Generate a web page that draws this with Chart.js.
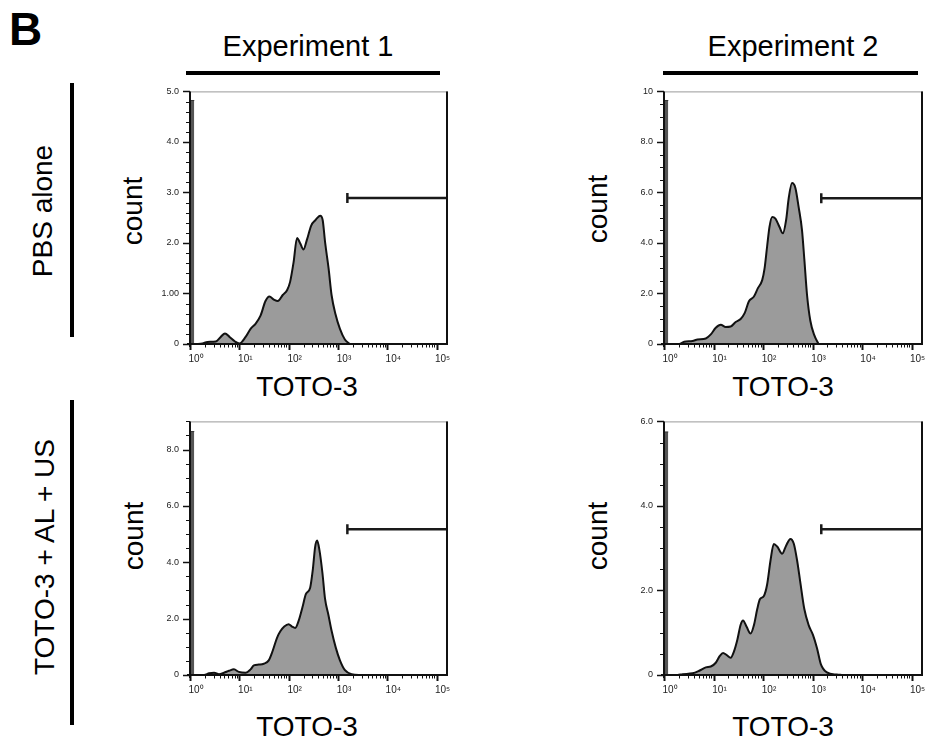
<!DOCTYPE html>
<html>
<head>
<meta charset="utf-8">
<script src="https://cdn.jsdelivr.net/npm/chart.js@4.4.1/dist/chart.umd.min.js"></script>
<style>
  body { margin: 0; width: 925px; height: 747px; overflow: hidden; background: #fff; position: relative;
         font-family: Arial, "Liberation Sans", sans-serif; color: #000; }
  canvas { position: absolute; }
  .t { position: absolute; white-space: nowrap; line-height: 1; }
  .c { transform: translateX(-50%); }
  .r { transform: translate(-50%, -50%) rotate(-90deg); }
  .bar { position: absolute; background: #000; }
</style>
</head>
<body>
<div class="t" style="left:9px; top:6px; font-size:46px; font-weight:bold;">B</div>
<div class="t c" style="left:308px; top:32px; font-size:29px;">Experiment 1</div>
<div class="t c" style="left:793px; top:32px; font-size:29px;">Experiment 2</div>
<div class="bar" style="left:186px; top:71px; width:254px; height:4px;"></div>
<div class="bar" style="left:663px; top:71px; width:255px; height:4px;"></div>
<div class="bar" style="left:70px; top:83px; width:4px; height:254px;"></div>
<div class="bar" style="left:70px; top:400px; width:4px; height:325px;"></div>
<div class="t r" style="left:43px; top:211px; font-size:28px;">PBS alone</div>
<div class="t r" style="left:45px; top:557px; font-size:28px;">TOTO-3 + AL + US</div>
<div class="t r" style="left:133px; top:211px; font-size:28px;">count</div>
<div class="t r" style="left:598px; top:209px; font-size:28px;">count</div>
<div class="t r" style="left:134px; top:536px; font-size:28px;">count</div>
<div class="t r" style="left:598px; top:536px; font-size:28px;">count</div>
<div class="t c" style="left:307px; top:373px; font-size:28px;">TOTO-3</div>
<div class="t c" style="left:783px; top:373px; font-size:28px;">TOTO-3</div>
<div class="t c" style="left:307px; top:713px; font-size:28px;">TOTO-3</div>
<div class="t c" style="left:783px; top:713px; font-size:28px;">TOTO-3</div>

<canvas id="c1" width="315" height="299" style="left:145px; top:75px;"></canvas>
<canvas id="c2" width="316" height="299" style="left:619px; top:75px;"></canvas>
<canvas id="c3" width="315" height="300" style="left:145px; top:405px;"></canvas>
<canvas id="c4" width="316" height="300" style="left:619px; top:405px;"></canvas>

<script>
// TOTO-3 fluorescence (x) and event count (y)
const x1 = [1.31,1.79,2.25,3.32,4.19,5.12,6.35,8.15,10.1,13.4,16.9,21.3,26.9,33.9,40.7,50.1,60.3,75.9,93.3,107,126,148,170,200,234,288,347,437,490,550,646,741,891,1096,1380,1738];
const y1 = [0,0.01,0.04,0.05,0.14,0.21,0.14,0.05,0.01,0.14,0.30,0.40,0.56,0.85,0.94,0.88,0.85,0.97,1.07,1.23,1.62,2.10,2.0,1.87,2.06,2.35,2.45,2.54,2.45,2.0,1.49,0.97,0.59,0.30,0.09,0];

const x2 = [1.19,2.03,2.56,3.77,4.75,6.98,8.81,11.1,14.0,17.6,22.2,28.0,35.3,42.5,51.9,65.5,78.7,96.2,107,121,135,153,178,214,251,292,331,385,450,525,612,682,773,902,1084,1318];
const y2 = [0,0,0.09,0.12,0.18,0.22,0.38,0.64,0.76,0.67,0.69,0.87,0.99,1.22,1.69,1.88,2.21,2.53,2.97,3.87,4.64,5.03,4.96,4.64,4.38,4.90,5.79,6.37,6.18,5.41,4.51,3.36,1.95,0.92,0.35,0];

const x3 = [1.42,1.93,2.44,3.08,3.87,4.89,6.17,7.78,9.79,13.4,16.9,19.7,24.8,31.3,39.5,47.5,58.1,67.8,81.5,100,117,136,158,191,223,273,309,344,378,421,484,547,640,746,899,1096,1384,1888,3006];
const y3 = [0,0,0.06,0.08,0.03,0.08,0.15,0.20,0.11,0.08,0.20,0.34,0.37,0.40,0.52,0.86,1.32,1.55,1.72,1.80,1.72,1.67,1.9,2.41,2.87,3.10,3.74,4.54,4.77,4.43,3.62,2.70,2.13,1.55,0.98,0.52,0.17,0.03,0];

const x4 = [1.38,1.88,2.37,3.77,5.13,6.98,8.81,11.1,13.4,15.6,18.5,22.2,25.9,30.2,35.3,39.4,46.6,56.1,65.5,76.4,86.3,104,121,142,165,193,243,292,357,417,486,568,682,834,1019,1227,1476,1950,3090,3890];
const y4 = [0,0,0.02,0.04,0.10,0.18,0.20,0.29,0.45,0.52,0.47,0.41,0.56,0.83,1.19,1.29,1.14,0.98,1.18,1.56,1.79,1.87,2.14,2.72,3.10,3.04,2.87,3.06,3.22,3.11,2.72,2.18,1.56,1.18,0.95,0.64,0.25,0.06,0.01,0];

// off-scale pile-up at the left edge, and the gate marker
const spikeH = [4.82, 9.64, 8.64, 5.75];
const spikeEnd = 1.22;
const gateX = [1550, 1500, 1550, 1500];
const gateY = [2.89, 5.77, 5.17, 3.45];

// axes
const xMin = 1, xMax = 170000;
const xMajor = [1, 10, 100, 1000, 10000, 100000];
const xMajorLabels = ['10\u2070', '10\u00B9', '10\u00B2', '10\u00B3', '10\u2074', '10\u2075'];
const yMax = [5, 10, 9, 6];
const yMinorStep = [0.2, 0.5, 0.5, 0.5];
const yMajor1 = [0, 1, 2, 3, 4, 5],      yLabels1 = ['0', '1.00', '2.0', '3.0', '4.0', '5.0'];
const yMajor2 = [0, 2, 4, 6, 8, 10],     yLabels2 = ['0', '2.0', '4.0', '6.0', '8.0', '10'];
const yMajor3 = [0, 2, 4, 6, 8],         yLabels3 = ['0', '2.0', '4.0', '6.0', '8.0'];
const yMajor4 = [0, 2, 4, 6],            yLabels4 = ['0', '2.0', '4.0', '6.0'];

const FONT = 'Arial, "Liberation Sans", sans-serif';

// frame + major/minor tick marks, drawn from the scales
const axisFrame = {
  id: 'axisFrame',
  afterDatasetsDraw(chart) {
    const { ctx, chartArea: a, scales } = chart;
    const seg = (x0, y0, x1, y1) => { ctx.beginPath(); ctx.moveTo(x0, y0); ctx.lineTo(x1, y1); ctx.stroke(); };
    ctx.save();
    ctx.strokeStyle = '#9a9a9a'; ctx.lineWidth = 1;
    seg(a.left, a.top + 0.5, a.right, a.top + 0.5);
    ctx.strokeStyle = '#111'; ctx.lineWidth = 2;
    seg(a.right - 1, a.top, a.right - 1, a.bottom);
    seg(a.left, a.top, a.left, a.bottom + 3);
    seg(a.left - 3, a.bottom, a.right, a.bottom);
    scales.x.ticks.forEach(t => {
      const px = Math.round(scales.x.getPixelForValue(t.value)) + 0.5;
      ctx.lineWidth = t.label ? 2 : 1;
      seg(px, a.bottom, px, a.bottom + (t.label ? 6 : 3.5));
    });
    scales.y.ticks.forEach(t => {
      const py = Math.round(scales.y.getPixelForValue(t.value)) + 0.5;
      ctx.lineWidth = t.label ? 1.5 : 1;
      seg(a.left, py, a.left - (t.label ? 7 : 4), py);
    });
    ctx.restore();
  }
};

function makePanel(id, xs, ys, idx, yMajor, yLabels) {
  const yTicks = [];
  for (let k = 0; k * yMinorStep[idx] <= yMax[idx] + 1e-9; k++) yTicks.push(+(k * yMinorStep[idx]).toFixed(3));
  const xTicks = [];
  xMajor.forEach(d => { for (let m = 1; m < 10; m++) if (d * m <= xMax) xTicks.push(d * m); });

  new Chart(document.getElementById(id), {
    type: 'line',
    data: {
      datasets: [
        { // gate
          data: [{ x: gateX[idx], y: gateY[idx] }, { x: xMax, y: gateY[idx] }],
          borderColor: '#1a1a1a', borderWidth: 2.5, fill: false, tension: 0,
          pointStyle: 'line', rotation: 90, pointRadius: [5, 0],
          pointBorderColor: '#1a1a1a', pointBorderWidth: 2.5
        },
        { // histogram
          data: xs.map((x, i) => ({ x: x, y: ys[i] })),
          borderColor: '#111', borderWidth: 2, backgroundColor: '#9b9b9b',
          fill: 'origin', cubicInterpolationMode: 'monotone', pointRadius: 0
        },
        { // spike at the lower limit
          data: [{ x: xMin, y: spikeH[idx] }, { x: spikeEnd, y: spikeH[idx] }],
          borderColor: '#333', borderWidth: 1, backgroundColor: '#555',
          fill: 'origin', tension: 0, pointRadius: 0
        }
      ]
    },
    options: {
      responsive: false,
      animation: false,
      layout: { padding: { top: 10, right: 12, left: 0, bottom: 0 } },
      plugins: { legend: { display: false }, tooltip: { enabled: false } },
      scales: {
        x: {
          type: 'logarithmic', min: xMin, max: xMax,
          afterBuildTicks: s => { s.ticks = xTicks.map(v => ({ value: v })); },
          afterFit: s => { s.height = 30; },
          grid: { display: false, drawTicks: false }, border: { display: false },
          ticks: {
            autoSkip: false, maxRotation: 0, padding: 9, labelOffset: 6,
            color: '#222', font: { family: FONT, size: 10 },
            callback: v => { const i = xMajor.indexOf(v); return i >= 0 ? xMajorLabels[i] : ''; }
          }
        },
        y: {
          min: 0, max: yMax[idx],
          afterBuildTicks: s => { s.ticks = yTicks.map(v => ({ value: v })); },
          afterFit: s => { s.width = 45; },
          grid: { display: false, drawTicks: false }, border: { display: false },
          ticks: {
            autoSkip: false, padding: 11,
            color: '#222', font: { family: FONT, size: 9 },
            callback: v => { const i = yMajor.findIndex(m => Math.abs(m - v) < 1e-6); return i >= 0 ? yLabels[i] : ''; }
          }
        }
      }
    },
    plugins: [axisFrame]
  });
}

makePanel('c1', x1, y1, 0, yMajor1, yLabels1);
makePanel('c2', x2, y2, 1, yMajor2, yLabels2);
makePanel('c3', x3, y3, 2, yMajor3, yLabels3);
makePanel('c4', x4, y4, 3, yMajor4, yLabels4);
</script>
</body>
</html>
